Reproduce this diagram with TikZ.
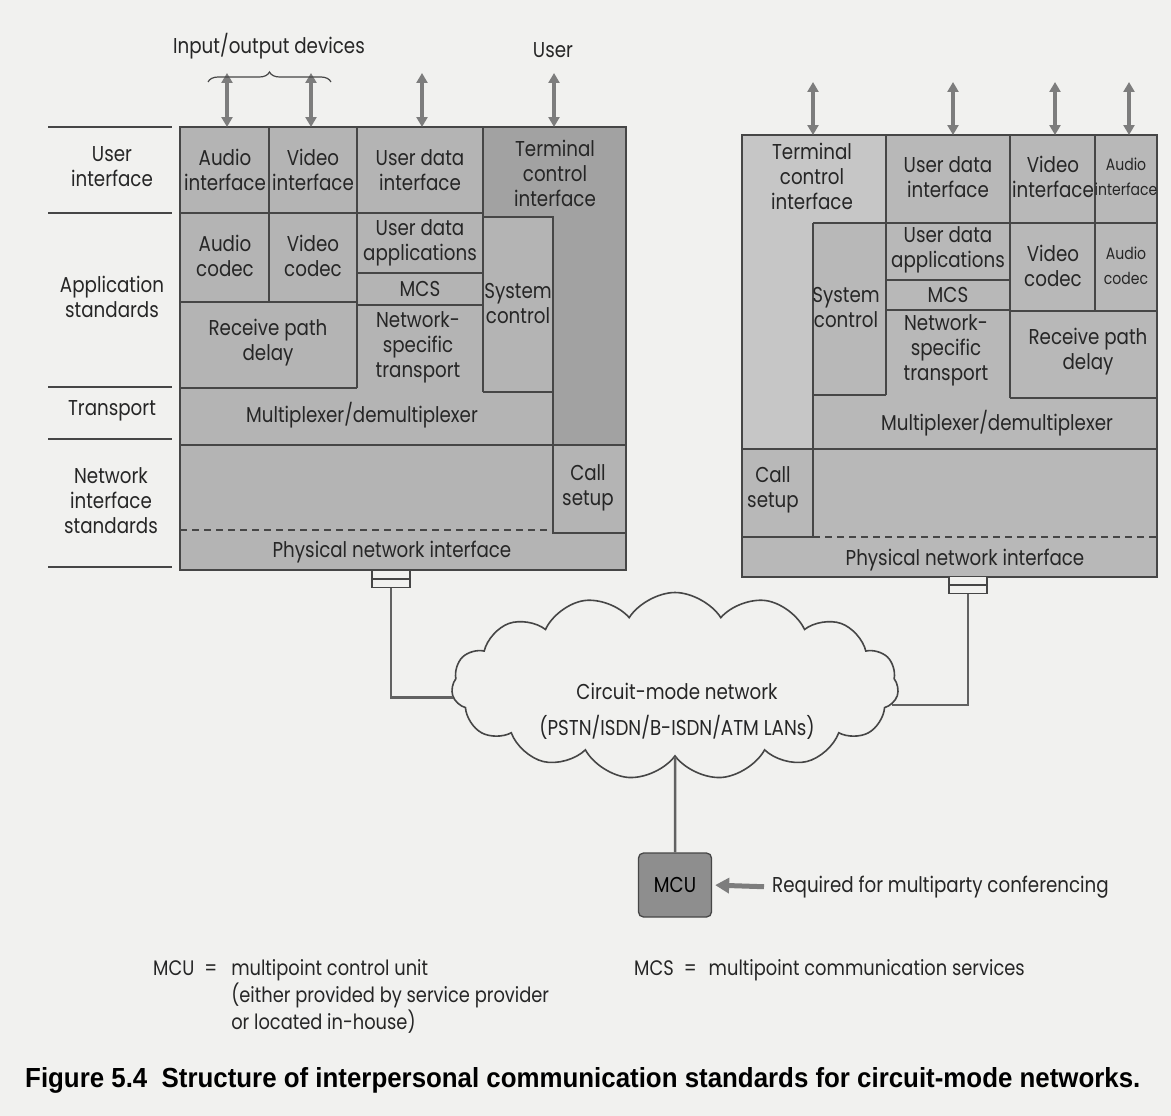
\documentclass[tikz,border=0pt]{standalone}
\usepackage{fontspec}
\setmainfont{Poppins}[FakeStretch=0.85]
\newfontfamily\capfont{Liberation Sans}
\usetikzlibrary{shapes,arrows.meta,positioning,decorations.pathreplacing}

\definecolor{pagebg}{RGB}{241,241,239}
\definecolor{cellgray}{RGB}{180,180,180}
\definecolor{termgray}{RGB}{162,162,162}
\definecolor{rcellgray}{RGB}{184,184,184}
\definecolor{rtermgray}{RGB}{198,198,198}
\definecolor{edgegray}{RGB}{70,70,70}
\definecolor{arrowgray}{RGB}{125,125,125}
\definecolor{mcugray}{RGB}{142,142,142}

\tikzset{
  cell/.style={draw=edgegray, line width=1.3pt},
  rule/.style={draw=edgegray, line width=1.1pt},
  lbl/.style={align=center, inner sep=0pt, text=black!85, font=\fontsize{21.5}{25}\selectfont},
  narrow/.style={font=\fontsize{16.5}{25}\selectfont},
  legend/.style={inner sep=0pt, text=black!85, font=\fontsize{21}{25}\selectfont},
  ioarrow/.style={{Triangle[length=10pt,width=11pt]}-{Triangle[length=10pt,width=11pt]}, draw=arrowgray, line width=3.5pt},
  brace/.style={decorate, decoration={brace, amplitude=10pt}, draw=edgegray, line width=1.2pt},
  wire/.style={draw=edgegray!85, line width=2.5pt},
  plug/.style={draw=edgegray, fill=pagebg, line width=1.2pt, minimum width=38pt, minimum height=17pt, inner sep=0pt},
  mcubox/.style={draw=edgegray, fill=mcugray, line width=1.3pt, rounded corners=5pt, minimum width=73pt, minimum height=64pt, inner sep=0pt, font=\fontsize{21.5}{25}\selectfont},
  reqarrow/.style={-{Triangle[length=14pt,width=15pt]}, draw=arrowgray, line width=5pt, shorten <=8pt, shorten >=3pt},
  dashline/.style={cell, dash pattern=on 7pt off 5pt}
}

\begin{document}
\begin{tikzpicture}[x=1pt,y=-1pt]
    \useasboundingbox (0,0) rectangle (1171,1116);
    \fill[pagebg] (0,0) rectangle (1171,1116);

    % Layer names
    \foreach \y in {127,213,387,439,567}
        \draw[rule] (48,\y) -- (172,\y);
    \node[lbl] (ui) at (112,167) {User\\interface};
    \node[lbl] (apps) at (112,297) {Application\\standards};
    \node[lbl] (trans) at (112,411) {Transport};
    \node[lbl] (netif) at (111,501) {Network\\interface\\standards};

    % Left terminal
    \begin{scope}
        \fill[cellgray] (180,127) rectangle (626,570);
        \fill[termgray] (483,127) -- (626,127) -- (626,445) -- (553,445) -- (553,217) -- (483,217) -- cycle;
        \draw[cell] (180,127) rectangle (626,570);
        \draw[cell] (180,213) -- (483,213) (269,127) -- (269,302) (357,127) -- (357,388) (483,127) -- (483,392)
            (180,302) -- (357,302) (357,273) -- (483,273) (357,305) -- (483,305) (180,388) -- (357,388)
            (483,217) -- (553,217) -- (553,533) -- (626,533) (483,392) -- (553,392) (180,445) -- (626,445);
        \draw[dashline] (180,530) -- (553,530);

        \node[lbl] (lauif) at (225,170) {Audio\\interface};
        \node[lbl] (lvif) at (313,170) {Video\\interface};
        \node[lbl] (ludif) at (420,170) {User data\\interface};
        \node[lbl] (ltci) at (555,173) {Terminal\\control\\interface};
        \node[lbl] (lacod) at (225,256) {Audio\\codec};
        \node[lbl] (lvcod) at (313,256) {Video\\codec};
        \node[lbl] (luda) at (420,243) {User data\\applications};
        \node[lbl] (lmcs) at (420,289) {MCS};
        \node[lbl] (lsys) at (518,304) {System\\control};
        \node[lbl] (lrpd) at (268,343) {Receive path\\delay};
        \node[lbl] (lnst) at (418,347) {Network-\\specific\\transport};
        \node[lbl] (lmux) at (362,415) {Multiplexer/demultiplexer};
        \node[lbl] (lcall) at (588,488) {Call\\setup};
        \node[lbl] (lphy) at (392,552) {Physical network interface};

        % devices and user
        \foreach \x [count=\i] in {227,311,422,554} {
            \coordinate (ltop\i) at (\x,127);
            \coordinate (lend\i) at (\x,73);
            \draw[ioarrow] (ltop\i) -- (lend\i);
        }
        \draw[brace] (208,82) -- (331,82);
        \node[lbl] (iodev) at (269,46) {Input/output devices};
        \node[lbl] (user) at (553,50) {User};
    \end{scope}

    % Right terminal
    \begin{scope}
        \fill[rcellgray] (742,135) rectangle (1157,577);
        \fill[rtermgray] (742,135) -- (886,135) -- (886,223) -- (813,223) -- (813,449) -- (742,449) -- cycle;
        \draw[cell] (742,135) rectangle (1157,577);
        \draw[cell] (813,223) -- (1157,223) (886,135) -- (886,395) (1010,135) -- (1010,398) (1095,135) -- (1095,311)
            (886,280) -- (1010,280) (886,310) -- (1010,310) (1010,311) -- (1157,311) (1010,398) -- (1157,398)
            (813,223) -- (813,537) (813,395) -- (886,395) (742,449) -- (1157,449) (742,537) -- (813,537);
        \draw[dashline] (813,537) -- (1157,537);

        \node[lbl] (rtci) at (812,176) {Terminal\\control\\interface};
        \node[lbl] (rudif) at (948,177) {User data\\interface};
        \node[lbl] (rvif) at (1053,177) {Video\\interface};
        \node[lbl, narrow] (rauif) at (1126,177) {Audio\\interface};
        \node[lbl] (rsys) at (846,308) {System\\control};
        \node[lbl] (ruda) at (948,250) {User data\\applications};
        \node[lbl] (rmcs) at (948,295) {MCS};
        \node[lbl] (rvcod) at (1053,266) {Video\\codec};
        \node[lbl, narrow] (racod) at (1126,266) {Audio\\codec};
        \node[lbl] (rnst) at (946,350) {Network-\\specific\\transport};
        \node[lbl] (rrpd) at (1088,352) {Receive path\\delay};
        \node[lbl] (rmux) at (997,423) {Multiplexer/demultiplexer};
        \node[lbl] (rcall) at (773,490) {Call\\setup};
        \node[lbl] (rphy) at (965,560) {Physical network interface};

        \foreach \x [count=\i] in {813,953,1055,1129} {
            \coordinate (rtop\i) at (\x,135);
            \coordinate (rend\i) at (\x,82);
            \draw[ioarrow] (rtop\i) -- (rend\i);
        }
    \end{scope}

    % Network
    \node[cloud, cloud puffs=15, cloud puff arc=115, aspect=2.4, draw=edgegray, line width=1.6pt,
          fill=pagebg, minimum width=447pt, minimum height=187pt, inner sep=0pt] (net) at (675,686) {};
    \node[lbl] (nettxt) at (677,691) {Circuit-mode network};
    \node[lbl] (netlist) at (677,727) {(PSTN/ISDN/B-ISDN/ATM LANs)};

    \node[plug] (plugL) at (391,579) {};
    \node[plug] (plugR) at (968,585) {};
    \draw[cell] (plugL.west) -- (plugL.east) (plugR.west) -- (plugR.east);
    \draw[wire] (plugL.south) |- (net.183);
    \draw[wire] (plugR.south) |- (net.-5);

    % MCU
    \node[mcubox] (mcu) at (675,885) {MCU};
    \draw[wire] (net.south) -- (mcu.north);
    \node[lbl, anchor=west] (req) at (772,887) {Required for multiparty conferencing};
    \draw[reqarrow] (req.west) -- (mcu.east);

    % Key
    \node[legend, anchor=base west] (mcukey) at (153,975) {MCU\hspace{10pt}=\hspace{14pt}\begin{tabular}[t]{@{}l@{}}multipoint control unit\\(either provided by service provider\\or located in-house)\end{tabular}};
    \node[legend, anchor=base west] (mcskey) at (634,975) {MCS\hspace{10pt}=\hspace{12pt}multipoint communication services};

    \node[anchor=base west, inner sep=0pt] (caption) at (25,1087)
        {\resizebox{1115pt}{20pt}{\capfont\bfseries Figure 5.4\ \ Structure of interpersonal communication standards for circuit-mode networks.}};
\end{tikzpicture}
\end{document}
